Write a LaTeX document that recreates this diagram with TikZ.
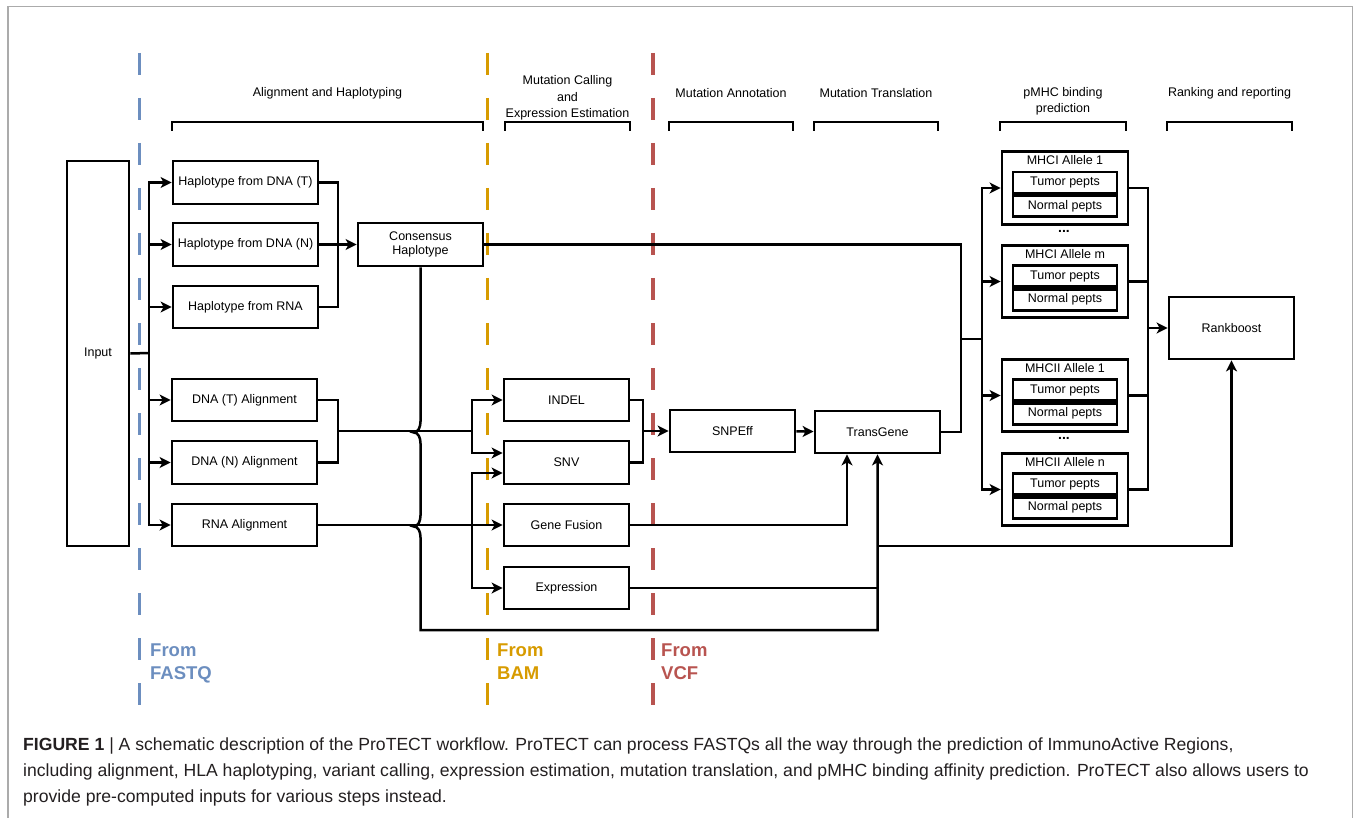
\documentclass[tikz,border=0pt]{standalone}
\usepackage{fontspec}
\setmainfont{Liberation Sans}
\usetikzlibrary{arrows.meta}
\definecolor{fastqblue}{HTML}{6C8EBF}
\definecolor{bamorange}{HTML}{D79B00}
\definecolor{vcfred}{HTML}{B85450}
\definecolor{framegray}{HTML}{ABABAB}
\definecolor{captiontext}{HTML}{231F20}
\begin{document}
\begin{tikzpicture}[x=1pt,y=-1pt]
        \tikzstyle{every node}=[font=\fontsize{12.5}{14}\selectfont]
        \tikzstyle{stage}=[draw, line width=2.8pt, minimum width=145pt, minimum height=43pt, inner sep=0pt, align=center]
        \tikzstyle{tool}=[stage, minimum width=125pt]
        \tikzstyle{allele}=[draw, line width=2.8pt, minimum width=126pt, minimum height=72.5pt, inner sep=0pt]
        \tikzstyle{pept}=[draw, line width=2.6pt, minimum width=104pt, minimum height=21pt, inner sep=0pt]
        \tikzstyle{link}=[line width=2.5pt]
        \tikzstyle{arr}=[link, -{Stealth[length=11pt,width=11pt,inset=3pt]}]
        \tikzstyle{bracket}=[line width=2.8pt]
        \tikzstyle{header}=[align=center]
        \tikzstyle{source}=[line width=3.8pt, dash pattern=on 22pt off 23pt]
        \tikzstyle{srclabel}=[anchor=north west, align=left, inner sep=0pt, font=\fontsize{18.5}{23}\selectfont\bfseries]
        \tikzstyle{caption}=[anchor=base west, inner sep=0pt, text=captiontext, font=\fontsize{17.6}{26}\selectfont]
        \useasboundingbox (0,0) rectangle (1354,818);
        \draw[framegray, line width=1.3pt] (8,818) -- (8,6.5) -- (1352.5,6.5) -- (1352.5,818);

        \draw[source, fastqblue] (139.5,53) -- (139.5,705);
        \draw[source, bamorange] (487.5,53) -- (487.5,705);
        \draw[source, vcfred] (653,53) -- (653,705);
        \node[srclabel, text=fastqblue] (fastq) at (150,644) {From\\FASTQ};
        \node[srclabel, text=bamorange] (bam) at (497,644) {From\\BAM};
        \node[srclabel, text=vcfred] (vcf) at (661,644) {From\\VCF};

        \node[header] (hAlign) at (327.5,93) {Alignment and Haplotyping};
        \node[header, font=\fontsize{12.5}{16.5}\selectfont] (hCall) at (567.5,98) {Mutation Calling\\and\\Expression Estimation};
        \node[header] (hAnnot) at (731,93) {Mutation Annotation};
        \node[header] (hTrans) at (876,93) {Mutation Translation};
        \node[header, font=\fontsize{12.5}{16}\selectfont] (hBind) at (1063,101) {pMHC binding\\prediction};
        \node[header] (hRank) at (1229.5,93) {Ranking and reporting};
        \foreach \l/\r in {172/483, 505/630, 669/793, 814/938, 1000/1126, 1167/1292}
            \draw[bracket] (\l,131) -- (\l,122) -- (\r,122) -- (\r,131);

        \node[stage, minimum width=62pt, minimum height=385pt] (input) at (98,353.5) {Input};
        \node[stage] (hapT) at (245.5,182.5) {Haplotype from DNA (T)};
        \node[stage] (hapN) at (245.5,244.5) {Haplotype from DNA (N)};
        \node[stage, minimum height=42pt] (hapR) at (245.5,307) {Haplotype from RNA};
        \node[tool] (cons) at (420.5,244.5) {Consensus\\Haplotype};
        \node[stage, minimum height=42pt] (alnT) at (244.5,400) {DNA (T) Alignment};
        \node[stage] (alnN) at (244.5,462.5) {DNA (N) Alignment};
        \node[stage, minimum height=42pt] (alnR) at (244.5,525) {RNA Alignment};
        \node[tool, minimum height=42pt] (indel) at (566.5,400) {INDEL};
        \node[tool] (snv) at (566.5,462.5) {SNV};
        \node[tool, minimum height=42pt] (fusion) at (566.5,525) {Gene Fusion};
        \node[tool, minimum height=42pt] (expr) at (566.5,588) {Expression};
        \node[tool, minimum height=42pt] (snpeff) at (732.5,431) {SNPEff};
        \node[tool, minimum height=42pt] (transgene) at (877.5,432) {TransGene};
        \foreach \n/\y/\t in {a1/188/MHCI Allele 1, am/281.5/MHCI Allele m, b1/395.5/MHCII Allele 1, bn/489.5/MHCII Allele n}{
            \node[allele] (\n) at (1065,\y) {};
            \node (\n-title) at ([yshift=-10pt]\n.north) {\t};
            \node[pept, anchor=north] (\n-tumor) at ([yshift=-20.5pt]\n.north) {Tumor pepts};
            \node[pept, anchor=north] (\n-normal) at (\n-tumor.south) {Normal pepts};
        }
        \node[font=\fontsize{14}{14}\selectfont\bfseries] (dotsI) at (1064,231) {...};
        \node[font=\fontsize{14}{14}\selectfont\bfseries] (dotsII) at (1064,438) {...};
        \node[tool, minimum height=62pt] (rankboost) at (1231.5,328) {Rankboost};

        \coordinate (split) at (149,353);
        \coordinate (hapjoin) at (338,244.5);
        \coordinate (alnjoin) at (338,431);
        \coordinate (dnasplit) at (472,431);
        \coordinate (rnasplit) at (472,525);
        \coordinate (varjoin) at (643,431);
        \coordinate (tgjoin) at (961,339);
        \coordinate (mhcsplit) at (982,339);
        \coordinate (rbjoin) at (1148,328);
        \coordinate (loopend) at (877.5,630);
        \coordinate (rbfeed) at (877.5,546);

        \draw[link] (input.east) -- (split);
        \foreach \b in {hapT,hapN,hapR,alnT,alnN,alnR}
            \draw[arr] (split) |- (\b);
        \draw[link] (hapT.east) -| (hapjoin) |- (hapR.east);
        \draw[arr] (hapN) -- (cons);
        \draw[link] (alnT.east) -| (alnjoin) |- (alnN.east);
        \draw[link] (alnjoin) -- (dnasplit);
        \draw[arr] (dnasplit) |- (indel);
        \draw[arr] (dnasplit) |- ([yshift=9.5pt]snv.west);
        \draw[arr] (alnR) -- (fusion);
        \draw[arr] (rnasplit) |- ([yshift=-10.5pt]snv.west);
        \draw[arr] (rnasplit) |- (expr);
        \draw[link] (indel.east) -| (varjoin) |- (snv.east);
        \draw[arr] (varjoin) -- (snpeff);
        \draw[arr] (snpeff) -- (transgene);
        \draw[arr] (fusion.east) -| ([xshift=-30.5pt]transgene.south);
        \draw[arr] (cons.south) -- ++(0,154) to[out=-90,in=0] ++(-7,11) to[out=0,in=90] ++(7,11)
            -- ++(0,72) to[out=-90,in=0] ++(-7,11) to[out=0,in=90] ++(7,11) |- (loopend) -- (transgene.south);
        \draw[link] (expr.east) -- (expr.east -| loopend);
        \draw[arr] (rbfeed) -| (rankboost);
        \draw[link] (cons.east) -| (tgjoin) |- (transgene.east);
        \draw[link] (tgjoin) -- (mhcsplit);
        \foreach \a in {a1,am,b1,bn}{
            \draw[arr] (mhcsplit) |- (\a);
            \draw[link] (\a.east) -| (rbjoin);
        }
        \draw[arr] (rbjoin) -- (rankboost);

        \node[caption] (caption1) at (23,750) {\textbf{FIGURE 1} | A schematic description of the ProTECT workflow. ProTECT can process FASTQs all the way through the prediction of ImmunoActive Regions,};
        \node[caption] (caption2) at (23,776) {including alignment, HLA haplotyping, variant calling, expression estimation, mutation translation, and pMHC binding affinity prediction. ProTECT also allows users to};
        \node[caption] (caption3) at (23,802) {provide pre-computed inputs for various steps instead.};
\end{tikzpicture}
\end{document}
